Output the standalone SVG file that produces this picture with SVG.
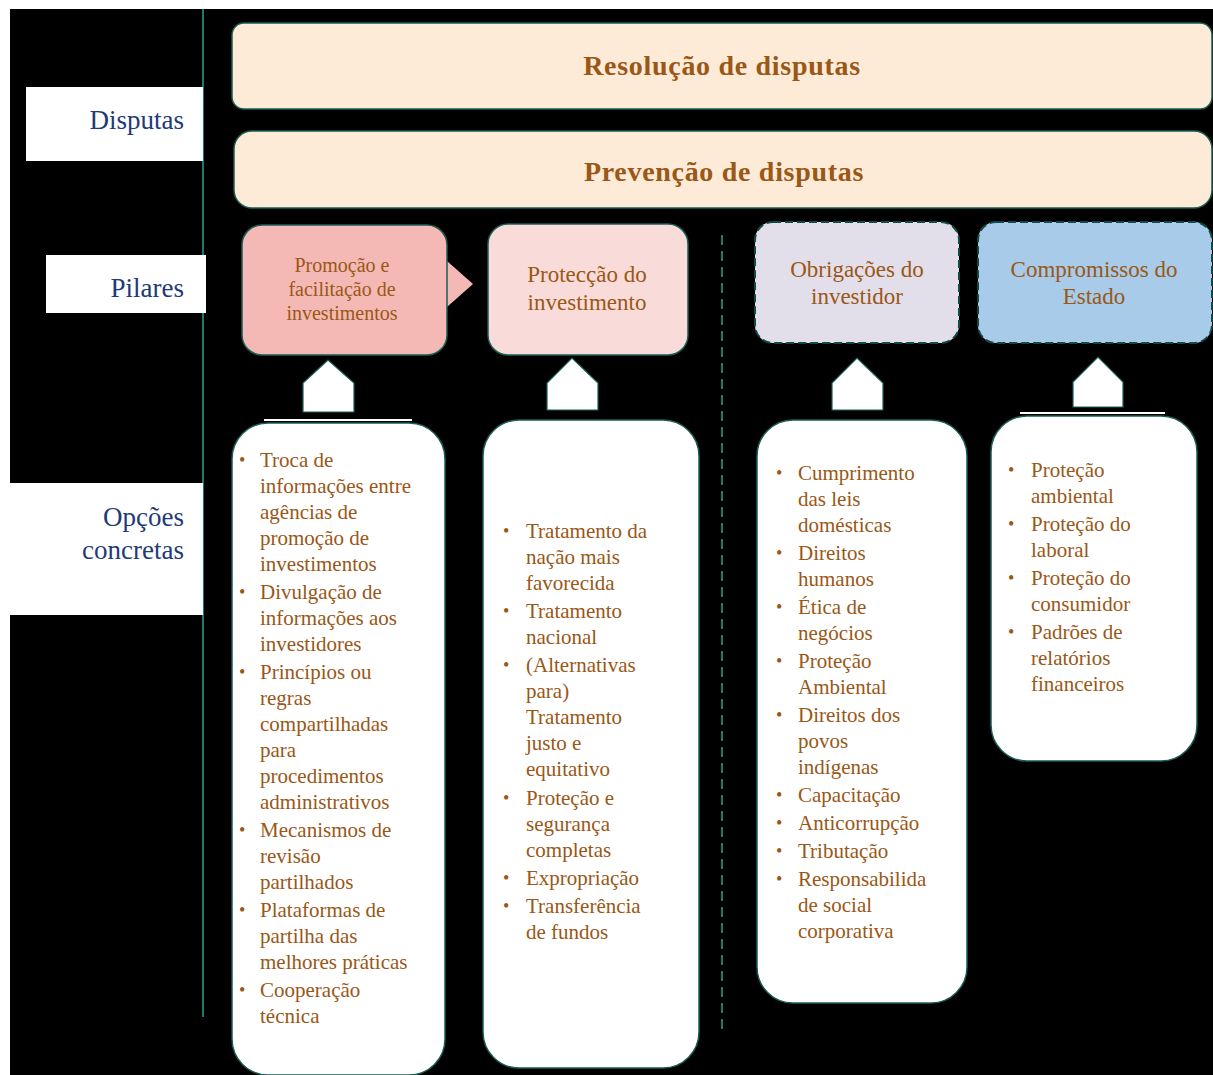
<svg xmlns="http://www.w3.org/2000/svg" width="1213" height="1075" viewBox="0 0 1213 1075">
<style>
.lab{font-family:"Liberation Serif",serif;font-size:27px;fill:#1F3A78;text-anchor:end}
.ban{font-family:"Liberation Serif",serif;font-size:28px;font-weight:bold;fill:#9A5716;text-anchor:middle;letter-spacing:0.7px}
.pil{font-family:"Liberation Serif",serif;font-size:23px;fill:#9A5716;text-anchor:middle}
.pil1{font-family:"Liberation Serif",serif;font-size:20px;fill:#9A5716;text-anchor:middle}
.it{font-family:"Liberation Serif",serif;font-size:21px;fill:#9A5716}
.bul{font-family:"Liberation Serif",serif;font-size:18px;fill:#9A5716}
.box{fill:#FFFFFF;stroke:#1A5E55;stroke-width:1.5}
.house{fill:#FFFFFF;stroke:#1A5E55;stroke-width:1.2}
</style>
<rect x="0" y="0" width="1213" height="1075" fill="#FFFFFF"/>
<rect x="10" y="9" width="1203" height="1066" fill="#000000"/>

<g id="connectors">
  <line x1="203" y1="9" x2="203" y2="1017" stroke="#1D7A6C" stroke-width="2"/>
  <line x1="722" y1="235" x2="722" y2="1030" stroke="#1D7A6C" stroke-width="2" stroke-dasharray="10 6"/>
  <polygon points="447,261 473,284 447,307" fill="#F4B9B4"/>
</g>

<g id="label-disputas">
  <rect x="26" y="87" width="177" height="74" fill="#FFFFFF"/>
  <text class="lab" x="184" y="129">Disputas</text>
</g>
<g id="label-pilares">
  <rect x="46" y="255" width="160" height="58" fill="#FFFFFF"/>
  <text class="lab" x="184" y="297">Pilares</text>
</g>
<g id="label-opcoes">
  <rect x="10" y="483" width="193" height="132" fill="#FFFFFF"/>
  <text class="lab" x="184" y="526">Opções</text>
  <text class="lab" x="184" y="559">concretas</text>
</g>

<g id="banner-resolucao">
  <rect x="232" y="23" width="980" height="86" rx="12" fill="#FDEBD7" stroke="#1A5E55" stroke-width="1.5"/>
  <text class="ban" x="722" y="75">Resolução de disputas</text>
</g>
<g id="banner-prevencao">
  <rect x="234" y="131" width="978" height="77" rx="18" fill="#FDEBD7" stroke="#1A5E55" stroke-width="1.5"/>
  <text class="ban" x="724" y="181">Prevenção de disputas</text>
</g>

<g id="pilar-promocao">
  <rect x="242" y="225" width="205" height="130" rx="20" fill="#F4B9B4" stroke="#1A5E55" stroke-width="1.5"/>
  <text class="pil1" x="342" y="272">Promoção e</text>
  <text class="pil1" x="342" y="296">facilitação de</text>
  <text class="pil1" x="342" y="320">investimentos</text>
</g>
<g id="pilar-proteccao">
  <rect x="488" y="224" width="200" height="131" rx="20" fill="#F9DCDA" stroke="#1A5E55" stroke-width="1.5"/>
  <text class="pil" x="587" y="282">Protecção do</text>
  <text class="pil" x="587" y="310">investimento</text>
</g>
<g id="pilar-obrigacoes">
  <rect x="755" y="222" width="204" height="121" rx="18" fill="#E3DFEA" stroke="#0F4A44" stroke-width="2" stroke-dasharray="8 4"/>
  <text class="pil" x="857" y="277">Obrigações do</text>
  <text class="pil" x="857" y="304">investidor</text>
</g>
<g id="pilar-compromissos">
  <rect x="978" y="222" width="234" height="121" rx="18" fill="#A7CBE8" stroke="#0F4A44" stroke-width="2" stroke-dasharray="8 4"/>
  <text class="pil" x="1094" y="277">Compromissos do</text>
  <text class="pil" x="1094" y="304">Estado</text>
</g>

<g id="seta-1"><polygon class="house" points="303,383 328,360 354,383 354,412 303,412"/></g>
<g id="seta-2"><polygon class="house" points="547,383 572,358 598,383 598,410 547,410"/></g>
<g id="seta-3"><polygon class="house" points="832,383 857,358 883,383 883,410 832,410"/></g>
<g id="seta-4"><polygon class="house" points="1073,382 1098,357 1123,382 1123,407 1073,407"/></g>

<g id="opcoes-promocao">
  <rect x="264" y="419" width="148" height="2" fill="#FFFFFF"/>
  <rect class="box" x="232" y="423" width="213" height="652" rx="36"/>
  <text class="bul" x="239" y="466">•</text>
  <text class="it"><tspan x="260" y="467">Troca de</tspan><tspan x="260" y="493">informações entre</tspan><tspan x="260" y="519">agências de</tspan><tspan x="260" y="545">promoção de</tspan><tspan x="260" y="571">investimentos</tspan></text>
  <text class="bul" x="239" y="598">•</text>
  <text class="it"><tspan x="260" y="599">Divulgação de</tspan><tspan x="260" y="625">informações aos</tspan><tspan x="260" y="651">investidores</tspan></text>
  <text class="bul" x="239" y="678">•</text>
  <text class="it"><tspan x="260" y="679">Princípios ou</tspan><tspan x="260" y="705">regras</tspan><tspan x="260" y="731">compartilhadas</tspan><tspan x="260" y="757">para</tspan><tspan x="260" y="783">procedimentos</tspan><tspan x="260" y="809">administrativos</tspan></text>
  <text class="bul" x="239" y="836">•</text>
  <text class="it"><tspan x="260" y="837">Mecanismos de</tspan><tspan x="260" y="863">revisão</tspan><tspan x="260" y="889">partilhados</tspan></text>
  <text class="bul" x="239" y="916">•</text>
  <text class="it"><tspan x="260" y="917">Plataformas de</tspan><tspan x="260" y="943">partilha das</tspan><tspan x="260" y="969">melhores práticas</tspan></text>
  <text class="bul" x="239" y="996">•</text>
  <text class="it"><tspan x="260" y="997">Cooperação</tspan><tspan x="260" y="1023">técnica</tspan></text>
</g>

<g id="opcoes-proteccao">
  <rect class="box" x="483" y="420" width="216" height="648" rx="36"/>
  <text class="bul" x="503" y="537">•</text>
  <text class="it"><tspan x="526" y="538">Tratamento da</tspan><tspan x="526" y="564">nação mais</tspan><tspan x="526" y="590">favorecida</tspan></text>
  <text class="bul" x="503" y="617">•</text>
  <text class="it"><tspan x="526" y="618">Tratamento</tspan><tspan x="526" y="644">nacional</tspan></text>
  <text class="bul" x="503" y="671">•</text>
  <text class="it"><tspan x="526" y="672">(Alternativas</tspan><tspan x="526" y="698">para)</tspan><tspan x="526" y="724">Tratamento</tspan><tspan x="526" y="750">justo e</tspan><tspan x="526" y="776">equitativo</tspan></text>
  <text class="bul" x="503" y="804">•</text>
  <text class="it"><tspan x="526" y="805">Proteção e</tspan><tspan x="526" y="831">segurança</tspan><tspan x="526" y="857">completas</tspan></text>
  <text class="bul" x="503" y="884">•</text>
  <text class="it"><tspan x="526" y="885">Expropriação</tspan></text>
  <text class="bul" x="503" y="912">•</text>
  <text class="it"><tspan x="526" y="913">Transferência</tspan><tspan x="526" y="939">de fundos</tspan></text>
</g>

<g id="opcoes-obrigacoes">
  <rect class="box" x="757" y="420" width="210" height="583" rx="36"/>
  <text class="bul" x="776" y="479">•</text>
  <text class="it"><tspan x="798" y="480">Cumprimento</tspan><tspan x="798" y="506">das leis</tspan><tspan x="798" y="532">domésticas</tspan></text>
  <text class="bul" x="776" y="559">•</text>
  <text class="it"><tspan x="798" y="560">Direitos</tspan><tspan x="798" y="586">humanos</tspan></text>
  <text class="bul" x="776" y="613">•</text>
  <text class="it"><tspan x="798" y="614">Ética de</tspan><tspan x="798" y="640">negócios</tspan></text>
  <text class="bul" x="776" y="667">•</text>
  <text class="it"><tspan x="798" y="668">Proteção</tspan><tspan x="798" y="694">Ambiental</tspan></text>
  <text class="bul" x="776" y="721">•</text>
  <text class="it"><tspan x="798" y="722">Direitos dos</tspan><tspan x="798" y="748">povos</tspan><tspan x="798" y="774">indígenas</tspan></text>
  <text class="bul" x="776" y="801">•</text>
  <text class="it"><tspan x="798" y="802">Capacitação</tspan></text>
  <text class="bul" x="776" y="829">•</text>
  <text class="it"><tspan x="798" y="830">Anticorrupção</tspan></text>
  <text class="bul" x="776" y="857">•</text>
  <text class="it"><tspan x="798" y="858">Tributação</tspan></text>
  <text class="bul" x="776" y="885">•</text>
  <text class="it"><tspan x="798" y="886">Responsabilida</tspan><tspan x="798" y="912">de social</tspan><tspan x="798" y="938">corporativa</tspan></text>
</g>

<g id="opcoes-compromissos">
  <rect x="1020" y="412" width="145" height="2" fill="#FFFFFF"/>
  <rect class="box" x="991" y="416" width="206" height="345" rx="36"/>
  <text class="bul" x="1008" y="476">•</text>
  <text class="it"><tspan x="1031" y="477">Proteção</tspan><tspan x="1031" y="503">ambiental</tspan></text>
  <text class="bul" x="1008" y="530">•</text>
  <text class="it"><tspan x="1031" y="531">Proteção do</tspan><tspan x="1031" y="557">laboral</tspan></text>
  <text class="bul" x="1008" y="584">•</text>
  <text class="it"><tspan x="1031" y="585">Proteção do</tspan><tspan x="1031" y="611">consumidor</tspan></text>
  <text class="bul" x="1008" y="638">•</text>
  <text class="it"><tspan x="1031" y="639">Padrões de</tspan><tspan x="1031" y="665">relatórios</tspan><tspan x="1031" y="691">financeiros</tspan></text>
</g>
</svg>
